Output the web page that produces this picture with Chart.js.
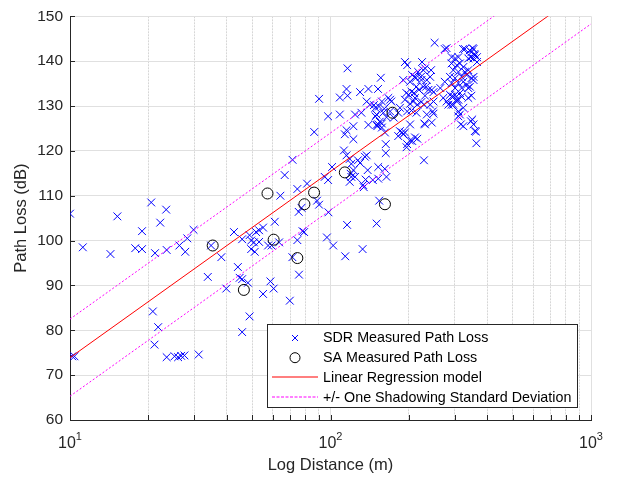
<!DOCTYPE html>
<html>
<head>
<meta charset="utf-8">
<script src="https://cdn.jsdelivr.net/npm/chart.js@4.4.1/dist/chart.umd.min.js"></script>
<style>
  html, body { margin: 0; padding: 0; background: #fff; }
  #wrap { width: 618px; height: 479px; }
</style>
</head>
<body>
<div id="wrap"><canvas id="plot" width="618" height="479"></canvas></div>
<script>
'use strict';

// SDR drive-test samples: distance to transmitter (m) / path loss (dB), index-matched
const sdrDistance = [
  10.0, 11.2, 15.2, 14.3, 17.8, 18.9, 18.9, 20.5, 23.4, 22.2, 21.2, 23.5,
  26.3, 27.7, 28.2, 29.8, 33.8, 20.8, 21.8, 21.1, 10.2, 10.4, 23.5, 25.2,
  26.0, 26.7, 27.5, 31.2, 34.8, 38.1, 39.8, 44.1, 44.8, 45.8, 48.2, 45.8,
  48.9, 55.1, 58.8, 60.5, 69.8, 75.7, 71.4, 71.5, 66.7, 64.2, 74.6, 81.3,
  88.8, 90.4, 75.5, 77.4, 97.9, 98.2, 96.9, 61.1, 55.1, 53.2, 51.8, 42.6,
  45.8, 48.9, 49.6, 50.8, 53.2, 57.6, 59.4, 63.5, 49.6, 51.2, 74.6, 78.1,
  79.2, 90.4, 86.6, 153.8, 115.8, 150.3, 102.4, 113.9, 132.8, 228.4, 116.2, 156,
  115.2, 108.6, 116.2, 129.9, 139.8, 152.2, 137.7, 97.9, 108.6, 124.2, 115.2, 122.4,
  113.5, 139.8, 150.3, 157.5, 154.5, 146.8, 153.5, 160.8, 166.7, 171.2, 159.5, 164.1,
  150.3, 152.5, 101.4, 112.6, 115.2, 118.5, 120.2, 122.4, 120.2, 118.5, 124.2, 129.9,
  137.7, 138.9, 136.4, 133.4, 152.5, 161.6, 163, 163, 152.5, 164, 127.4, 135.5,
  145.3, 134.2, 119.5, 95, 161.8, 131.4, 141.7, 148.8, 157.5, 169.4, 148.8, 157.5,
  151.2, 169.4, 182, 175, 122.4, 193.1, 224.6, 251, 274.5, 190.2, 205.9, 212,
  222.3, 230.6, 243.3, 234.2, 227.2, 218.4, 237.7, 248.6, 230.6, 209.4, 199.6, 193.1,
  207.6, 223.4, 204.6, 196.9, 213.7, 248.6, 229.3, 202.1, 190.2, 196.9, 205.9, 211,
  184.7, 193.1, 195.9, 201.8, 215.4, 188.4, 182, 196.9, 211, 202.1, 217, 227.2,
  223.4, 232.8, 241.3, 244.7, 213.7, 204.6, 211, 195.5, 202.1, 215.4, 228.4, 241.3,
  248.6, 271, 279, 264, 274.5, 247.2, 234.2, 184.7, 230.6, 244.7, 279, 323,
  342, 351, 357, 365, 354, 346, 291.7, 300.8, 309.7, 291.7, 305.5, 314,
  323.5, 296, 309.7, 328, 338, 318.7, 300.8, 287.5, 291.7, 309.7, 323.5, 333,
  347.5, 354, 300.8, 318.7, 338, 314, 287.5, 296, 305.5, 309.7, 347.5, 283.6,
  291.7, 305.5, 323.5, 314, 309.7, 316.5, 323.5, 346, 354, 362, 363, 309.7,
  350, 358, 338, 347.5, 354, 358, 365, 328, 333, 354, 343, 318.7,
  338, 296, 300.8, 291.7
];
const sdrPathLoss = [
  106.0, 98.5, 105.4, 97.0, 98.3, 98.1, 102.1, 108.5, 106.9, 104.0, 97.2, 97.9,
  98.9, 97.5, 100.5, 102.4, 91.9, 84.2, 80.7, 76.8, 74.2, 74.2, 74.0, 74.2,
  74.0, 74.3, 74.4, 74.6, 98.9, 96.3, 89.3, 94.1, 91.7, 91.4, 90.6, 79.6,
  83.1, 88.1, 90.9, 89.3, 86.6, 92.4, 96.3, 118.0, 114.6, 110.0, 111.5, 112.7,
  108.9, 108.0, 106.4, 107.3, 113.5, 106.3, 100.7, 104.2, 102.9, 102.3, 101.9, 101.9,
  100.3, 101.2, 100.0, 99.6, 99.7, 98.9, 98.9, 99.6, 98.1, 97.5, 100.1, 102.1,
  101.9, 131.6, 124.2, 108.9, 103.5, 103.8, 98.9, 96.5, 98.1, 117.9, 138.4, 136.3,
  133.8, 131.9, 132.3, 133.1, 133.8, 133.8, 131.0, 127.7, 128.1, 128.1, 124.6, 125.5,
  123.7, 125.8, 125.8, 125.2, 126.5, 130.2, 129.9, 129.4, 131.8, 131.0, 128.5, 127.5,
  128.1, 125.9, 116.4, 120.1, 119.0, 118.2, 117.1, 115.7, 114.2, 113.1, 114.2, 117.3,
  119.0, 115.7, 113.6, 112.4, 116.4, 116.0, 119.5, 121.5, 113.8, 114.2, 117.9, 118.7,
  113.5, 111.9, 114.9, 114.2, 124.1, 128.5, 130.3, 129.6, 131.0, 131.4, 127.7, 126.1,
  125.5, 128.8, 128.5, 127.4, 122.6, 139.8, 139.8, 144.1, 142.7, 135.8, 136.9, 136.2,
  136.5, 138.4, 138.0, 135.8, 134.3, 133.6, 133.6, 133.1, 132.3, 132.9, 132.5, 131.4,
  131.0, 130.9, 129.0, 128.8, 128.5, 128.3, 126.1, 125.9, 123.7, 121.5, 122.2, 123.0,
  124.4, 124.1, 120.8, 122.3, 122.7, 124.1, 123.3, 139.1, 136.5, 135.4, 137.6, 138.0,
  135.8, 134.3, 136.5, 133.6, 134.3, 133.2, 131.8, 132.9, 130.5, 130.3, 130.3, 130.3,
  131.0, 131.8, 131.0, 134.0, 135.4, 128.8, 128.1, 129.6, 125.9, 126.3, 142.9, 142.7,
  142.4, 142.9, 141.6, 140.9, 140.6, 140.9, 140.9, 140.6, 140.9, 139.5, 139.1, 139.5,
  138.7, 138.0, 137.6, 137.6, 138.0, 136.5, 136.2, 136.5, 135.1, 135.1, 135.4, 134.7,
  136.2, 136.5, 134.0, 134.0, 134.0, 132.9, 132.5, 132.1, 131.4, 131.4, 132.3, 130.3,
  130.3, 131.0, 129.6, 128.1, 127.7, 125.9, 125.5, 126.6, 125.9, 124.3, 121.7, 128.8,
  127.0, 124.4, 140.6, 142.0, 142.7, 141.3, 139.8, 142.7, 136.9, 135.8, 134.3, 132.1,
  131.8, 130.3, 132.5, 132.1
];

// spectrum-analyser spot measurements
const saDistance = [35.3, 46.5, 57.3, 60.5, 74.6, 79.4, 86.5, 113.5, 161.8, 173];
const saPathLoss = [98.9, 89.0, 110.5, 100.2, 96.1, 108.1, 110.7, 115.2, 108.1, 128.5];

// log-distance fit: PL(d) = fitPL10 + fitSlope * log10(d / 10), shadowing sigma in dB
const fitPL10 = 73.9;
const fitSlope = 41.5;
const shadowSigma = 8.6;
const fitRange = [10, 1000];

// axes
const xTicks = [10, 20, 30, 40, 50, 60, 70, 80, 90,
                100, 200, 300, 400, 500, 600, 700, 800, 900, 1000];
const xDecades = [10, 100, 1000];
const xExponents = ['1', '2', '3'];
const yRange = [60, 150];
const yStep = 10;

const FONT = "'Liberation Sans', Arial, Helvetica, sans-serif";
const AXIS_COLOR = '#262626';

// one style per series, shared by the datasets and the legend box
const SERIES_STYLES = {
  sdr: { kind: 'cross', color: 'rgb(0,0,255)', radius: 5.5 },
  sa: { kind: 'circle', color: 'rgb(0,0,0)', radius: 5.5 },
  fit: { kind: 'line', color: 'rgb(255,0,0)', dash: [] },
  shadow: { kind: 'line', color: 'rgb(255,0,255)', dash: [2, 2] }
};
const legendOrder = ['sdr', 'sa', 'fit', 'shadow'];

function toPoints(xs, ys) {
  return xs.map((x, i) => ({ x: x, y: ys[i] }));
}

function fitLine(offset) {
  return fitRange.map(d => ({ x: d, y: fitPL10 + offset + fitSlope * Math.log10(d / 10) }));
}

function markerSet(label, points, style, order) {
  return {
    label: label,
    data: points,
    pointStyle: style.kind === 'cross' ? 'crossRot' : 'circle',
    pointRadius: style.radius,
    borderWidth: 1,
    borderColor: style.color,
    backgroundColor: style.kind === 'cross' ? style.color : 'rgba(0,0,0,0)',
    order: order
  };
}

function lineSet(label, points, style, order) {
  return {
    label: label,
    data: points,
    showLine: true,
    pointRadius: 0,
    borderWidth: 1,
    borderColor: style.color,
    borderDash: style.dash,
    fill: false,
    order: order
  };
}

const isDecade = v => xDecades.includes(v);

function drawLegendSymbol(ctx, st, lx, cy) {
  const cx = lx + 28;
  ctx.strokeStyle = st.color;
  ctx.lineWidth = 1;
  ctx.beginPath();
  if (st.kind === 'line') {
    // sample sits on a pixel boundary, like the anti-aliased MATLAB line
    const y = Math.round(cy);
    ctx.setLineDash(st.dash.length ? [3, 1.5] : []);
    ctx.lineWidth = 1.2;
    ctx.moveTo(lx + 5, y);
    ctx.lineTo(lx + 51, y);
  } else if (st.kind === 'cross') {
    ctx.setLineDash([]);
    const r = 3;
    ctx.moveTo(cx - r, cy - r); ctx.lineTo(cx + r, cy + r);
    ctx.moveTo(cx - r, cy + r); ctx.lineTo(cx + r, cy - r);
  } else {
    ctx.setLineDash([]);
    ctx.arc(cx, cy, 5, 0, Math.PI * 2);
  }
  ctx.stroke();
  ctx.setLineDash([]);
}

// legend box, inward tick marks and 10^n labels
const matlabDecor = {
  id: 'matlabDecor',
  afterDraw(chart) {
    const { ctx, chartArea: area, scales } = chart;
    const xs = scales.x, ys = scales.y;

    ctx.save();
    ctx.strokeStyle = AXIS_COLOR;
    ctx.lineWidth = 1;
    ctx.beginPath();
    ys.ticks.forEach(t => {
      const y = Math.round(ys.getPixelForValue(t.value)) + 0.5;
      ctx.moveTo(area.left, y);
      ctx.lineTo(area.left + 5, y);
    });
    xTicks.forEach(v => {
      const x = Math.round(xs.getPixelForValue(v)) + 0.5;
      ctx.moveTo(x, area.bottom);
      ctx.lineTo(x, area.bottom - 5);
    });
    ctx.stroke();

    // decade labels with superscript exponent
    ctx.fillStyle = AXIS_COLOR;
    ctx.textBaseline = 'alphabetic';
    xDecades.forEach((v, i) => {
      const x = xs.getPixelForValue(v);
      ctx.font = '16px ' + FONT;
      const baseW = ctx.measureText('10').width;
      ctx.font = '11px ' + FONT;
      const supW = ctx.measureText(xExponents[i]).width;
      const x0 = x - (baseW + supW) / 2;
      ctx.font = '16px ' + FONT;
      ctx.fillText('10', x0, area.bottom + 28);
      ctx.font = '11px ' + FONT;
      ctx.fillText(xExponents[i], x0 + baseW, area.bottom + 20);
    });

    // legend
    const w = 310, h = 83;
    const lx = Math.round(area.right - 14 - w), ly = Math.round(area.bottom - 13 - h);
    ctx.fillStyle = '#ffffff';
    ctx.fillRect(lx, ly, w, h);
    ctx.strokeStyle = AXIS_COLOR;
    ctx.strokeRect(lx + 0.5, ly + 0.5, w, h);

    legendOrder.forEach((key, i) => {
      const cy = ly + 14 + i * 19.7;
      drawLegendSymbol(ctx, SERIES_STYLES[key], lx, cy);
      ctx.font = '14.3px ' + FONT;
      ctx.textBaseline = 'middle';
      ctx.textAlign = 'left';
      ctx.fillStyle = '#000000';
      ctx.fillText(chart.data.datasets[i].label, lx + 56, cy + 0.5);
    });
    ctx.restore();
  }
};

new Chart(document.getElementById('plot'), {
  type: 'scatter',
  data: {
    datasets: [
      markerSet('SDR Measured Path Loss', toPoints(sdrDistance, sdrPathLoss), SERIES_STYLES.sdr, 4),
      markerSet('SA Measured Path Loss', toPoints(saDistance, saPathLoss), SERIES_STYLES.sa, 3),
      lineSet('Linear Regression model', fitLine(0), SERIES_STYLES.fit, 2),
      lineSet('+/- One Shadowing Standard Deviation', fitLine(shadowSigma), SERIES_STYLES.shadow, 1),
      lineSet('lower shadowing bound', fitLine(-shadowSigma), SERIES_STYLES.shadow, 1)
    ]
  },
  options: {
    responsive: false,
    animation: false,
    events: [],
    layout: { padding: { left: 0, right: 27, top: 10, bottom: 0 } },
    plugins: { legend: { display: false }, tooltip: { enabled: false } },
    scales: {
      x: {
        type: 'logarithmic',
        min: 10,
        max: 1000,
        afterBuildTicks: axis => {
          axis.ticks = xTicks.map(v => ({ value: v, major: isDecade(v) }));
        },
        afterFit: axis => { axis.height = 59; },
        ticks: { display: false },
        grid: {
          drawTicks: false,
          color: c => (c.tick && c.tick.major ? '#e0e0e0' : '#d6d6d6'),
          lineWidth: 1
        },
        border: {
          color: AXIS_COLOR,
          dash: c => (c.tick && c.tick.major ? [] : [2, 1])
        },
        title: {
          display: true,
          text: 'Log Distance (m)',
          color: AXIS_COLOR,
          font: { family: FONT, size: 16.5 },
          padding: { top: 0, bottom: 4 }
        }
      },
      y: {
        min: yRange[0],
        max: yRange[1],
        afterFit: axis => { axis.width = 70; },
        ticks: {
          stepSize: yStep,
          color: AXIS_COLOR,
          padding: 7,
          font: { family: FONT, size: 15.5 }
        },
        grid: { drawTicks: false, color: '#e0e0e0', lineWidth: 1 },
        border: { color: AXIS_COLOR },
        title: {
          display: true,
          text: 'Path Loss (dB)',
          color: AXIS_COLOR,
          font: { family: FONT, size: 16.5 },
          padding: { top: 12, bottom: 0 }
        }
      }
    }
  },
  plugins: [matlabDecor]
});
</script>
</body>
</html>
